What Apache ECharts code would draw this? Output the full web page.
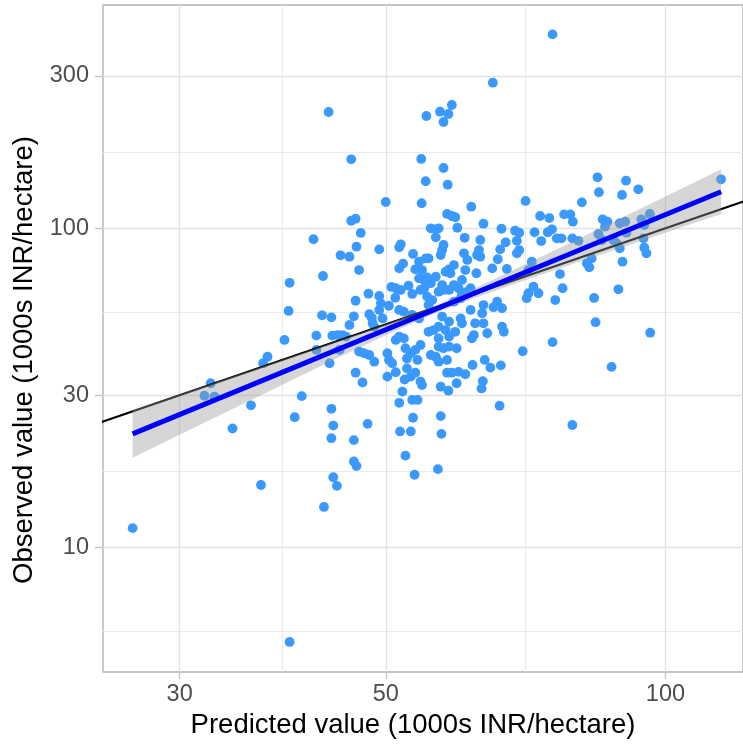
<!DOCTYPE html>
<html>
<head>
<meta charset="utf-8">
<script src="https://cdn.jsdelivr.net/npm/echarts@6/dist/echarts.min.js"></script>
<style>
  html, body { margin: 0; padding: 0; background: #ffffff; }
  #chart { width: 743px; height: 746px; }
</style>
</head>
<body>
<div id="chart"></div>
<script>
// Predicted vs observed land value, 1000s INR per hectare (log-log)
const predicted = [
  50.0, 54.65, 45.9, 46.4, 47.0, 41.8, 46.5, 49.2, 51.7, 51.9,
  53.5, 44.7, 45.7, 52.2, 51.7, 46.8, 42.8, 54.3, 55.0, 55.4,
  51.25, 50.7, 51.9, 52.9, 53.4, 54.5, 55.0, 55.4, 47.9, 49.2,
  51.2, 46.4, 49.4, 50.4, 51.7, 52.3, 49.2, 42.7, 43.7, 46.2,
  48.0, 48.3, 49.6, 45.7, 48.4, 48.6, 53.4, 54.3, 54.3, 55.2,
  53.8, 54.7, 70.7, 61.8, 58.2, 58.9, 59.4, 73.3, 75.0, 63.7,
  59.7, 55.9, 56.6, 57.0, 66.6, 68.9, 69.6, 72.3, 74.7, 75.5,
  56.6, 60.8, 63.2, 67.3, 66.4, 69.2, 73.5, 76.4, 57.7, 57.5,
  57.3, 63.0, 62.7, 63.2, 69.6, 69.2, 60.7, 61.2, 66.0, 55.6,
  59.2, 58.5, 58.0, 58.7, 65.1, 67.5, 60.9, 60.4, 62.6, 71.8,
  71.2, 56.6, 55.9, 57.5, 57.7, 59.2, 59.9, 61.7, 61.2, 60.4,
  60.2, 58.5, 57.0, 72.1, 71.2, 70.9, 73.0, 76.1, 56.1, 55.6,
  59.2, 63.7, 63.5, 65.9, 65.3, 66.7, 61.7, 62.4, 57.5, 58.5,
  57.0, 60.2, 60.4, 63.7, 66.7, 42.1, 43.8, 44.4, 44.9, 45.3,
  42.1, 43.5, 44.6, 46.8, 47.4, 48.0, 48.6, 46.4, 47.2, 50.2,
  50.4, 50.8, 51.25, 51.7, 52.3, 52.5, 53.2, 53.8, 54.5, 52.7,
  54.1, 52.7, 53.8, 53.2, 51.25, 50.2, 52.4, 54.5, 54.7, 52.1,
  40.6, 51.7, 53.4, 54.1, 43.7, 43.9, 47.8, 43.7, 46.2, 51.8,
  53.2, 53.5, 52.5, 46.2, 46.5, 43.9, 53.7, 75.6, 70.2, 55.6,
  56.3, 57.0, 58.0, 58.5, 62.2, 61.9, 64.3, 67.0, 59.4, 57.0,
  57.7, 58.5, 59.6, 55.9, 56.6, 57.0, 58.2, 62.0, 63.9, 64.8,
  66.5, 58.2, 58.9, 59.9, 60.9, 59.6, 63.6, 63.4, 57.3, 58.4,
  66.3, 57.3, 57.4, 56.9, 114.8, 84.5, 90.7, 84.8, 89.8, 93.5,
  81.3, 77.8, 79.0, 79.5, 85.6, 86.6, 89.3, 90.5, 90.8, 94.2,
  96.2, 94.9, 86.1, 84.7, 77.3, 79.4, 80.6, 85.4, 87.9, 88.6,
  94.7, 89.3, 94.9, 95.4, 83.3, 82.3, 82.8, 89.9, 77.0, 77.5,
  89.0, 83.8, 84.1, 96.3, 87.5, 39.4, 39.3, 38.9, 37.3, 36.9,
  32.4, 31.9, 32.7, 35.8, 34.2, 39.9, 26.7, 36.7, 39.4, 75.6,
  65.2, 43.4, 58.9, 57.2, 58.4, 55.3, 57.7, 45.9, 54.6, 57.7,
  55.2, 58.3, 44.3, 42.9, 79.4
];
const observed = [
  120.9, 119.8, 105.6, 107.2, 96.7, 92.4, 87.6, 85.9, 87.2, 89.1,
  83.1, 82.3, 81.5, 77.5, 74.9, 74.0, 70.9, 69.7, 68.9, 70.2,
  64.9, 65.5, 64.1, 66.1, 62.3, 64.1, 64.9, 61.1, 62.4, 61.4,
  60.6, 59.3, 58.2, 57.2, 55.5, 54.8, 55.5, 53.4, 52.6, 53.0,
  53.8, 52.5, 52.2, 49.8, 50.4, 49.2, 53.5, 52.2, 78.6, 80.5,
  74.4, 74.0, 121.8, 116.9, 110.9, 109.3, 108.3, 109.3, 107.7, 103.4,
  100.4, 100.0, 99.3, 100.0, 99.7, 98.3, 96.9, 97.2, 97.2, 99.3,
  93.7, 93.4, 91.9, 90.4, 85.9, 91.4, 91.2, 93.0, 88.7, 85.5,
  82.5, 85.5, 82.5, 81.5, 85.5, 83.5, 83.5, 79.6, 80.0, 80.5,
  76.7, 74.4, 73.1, 72.3, 74.9, 74.6, 74.0, 68.9, 72.3, 78.6,
  74.0, 70.5, 67.3, 66.4, 64.1, 66.4, 64.9, 64.9, 63.3, 62.6,
  60.4, 64.1, 63.3, 65.6, 62.6, 60.4, 62.6, 59.6, 59.6, 57.5,
  58.9, 57.5, 54.2, 58.9, 56.6, 56.2, 55.5, 50.4, 52.9, 51.0,
  49.2, 52.2, 50.4, 50.4, 49.2, 46.1, 46.1, 46.3, 46.3, 45.8,
  41.6, 37.8, 41.6, 41.1, 40.6, 40.1, 38.2, 35.3, 32.9, 40.6,
  38.7, 37.8, 44.7, 45.8, 45.2, 42.1, 40.6, 41.6, 43.1, 39.1,
  38.7, 36.4, 35.3, 34.3, 35.4, 34.3, 33.6, 33.1, 32.3, 30.8,
  29.8, 28.4, 29.0, 29.0, 27.2, 24.1, 24.4, 22.0, 21.7, 23.1,
  23.1, 25.5, 19.4, 18.6, 18.0, 16.6, 16.9, 44.0, 41.2, 47.4,
  48.0, 45.2, 48.0, 45.8, 46.3, 45.2, 46.9, 47.4, 47.4, 42.6,
  42.1, 42.6, 42.1, 40.1, 39.6, 38.2, 38.7, 37.3, 38.7, 36.6,
  37.2, 35.3, 35.3, 35.5, 34.9, 32.7, 33.2, 31.5, 31.9, 31.0,
  27.8, 25.8, 22.7, 17.6, 142.4, 144.5, 141.0, 129.7, 127.2, 132.5,
  120.6, 110.6, 110.6, 104.9, 106.7, 104.9, 103.7, 104.9, 96.9, 106.7,
  110.9, 102.4, 101.2, 96.0, 93.0, 93.0, 91.4, 91.9, 91.9, 89.7,
  93.0, 86.6, 86.9, 83.5, 80.5, 77.7, 75.5, 78.6, 71.9, 64.9,
  64.4, 60.5, 50.8, 47.1, 36.8, 67.5, 55.1, 44.7, 39.6, 37.8,
  32.7, 29.9, 29.7, 27.9, 23.6, 25.6, 11.5, 15.7, 5.06, 405,
  285.9, 231.4, 243.4, 231.9, 228.1, 224.8, 215.3, 164.5, 164.9, 154.5,
  140.4, 137.0, 15.6, 13.4, 24.2
];

// Axis breaks and limits (data units)
const xBreaks = [30, 50, 100];
const xMinorBreaks = [38.73, 70.71];
const yBreaks = [10, 30, 100, 300];
const yMinorBreaks = [5.48, 17.32, 54.77, 173.2];
const xLimits = [24.81, 121.2];
const yLimits = [4.074, 500.7];

// Fitted regression line and its confidence band
const fitX = [26.7, 114.8];
const fitY = [22.7, 130.2];
const bandX    = [26.7, 30, 35, 40, 45, 50, 56.6, 63, 70, 80, 90, 100, 114.8];
const bandLow  = [19.11, 22.56, 28.07, 33.91, 39.99, 46.27, 54.30, 61.17, 68.14, 77.81, 87.30, 96.80, 110.8];
const bandHigh = [26.95, 30.19, 35.10, 40.02, 44.98, 50.06, 57.40, 65.80, 76.11, 91.77, 108.4, 125.9, 153.0];

// 1:1 reference line
const identityRange = [20, 130];

const lg = Math.log10;
const FONT = '"Liberation Sans", Arial, Helvetica, sans-serif';
const fmt = v => String(Math.round(Math.pow(10, v)));

const chart = echarts.init(document.getElementById('chart'), null, { renderer: 'canvas' });

const points = predicted.map((x, i) => [lg(x), lg(observed[i])]);

const majorGrid = { show: true, lineStyle: { color: '#e2e2e2', width: 1.3 } };
const minorGrid = { show: true, lineStyle: { color: '#ebebeb', width: 1.1 } };

chart.setOption({
  animation: false,
  backgroundColor: '#ffffff',
  grid: {
    left: 103, top: 5, width: 642, height: 667,
    show: true, borderColor: '#b3b3b3', borderWidth: 1.4, backgroundColor: 'transparent'
  },
  xAxis: [
    {
      type: 'value', min: lg(xLimits[0]), max: lg(xLimits[1]),
      axisLine: { show: false },
      axisTick: { show: true, length: 7, customValues: xBreaks.map(lg), lineStyle: { color: '#c4c4c4', width: 1.3 } },
      axisLabel: { customValues: xBreaks.map(lg), formatter: fmt, margin: 11, color: '#4d4d4d', fontSize: 23.5, fontFamily: FONT },
      splitLine: majorGrid,
      name: 'Predicted value (1000s INR/hectare)',
      nameLocation: 'middle', nameGap: 38,
      nameTextStyle: { color: '#000000', fontSize: 27.5, fontFamily: FONT, padding: [0, 20, 0, 0] }
    },
    {
      type: 'value', min: lg(xLimits[0]), max: lg(xLimits[1]), position: 'bottom',
      axisLine: { show: false },
      axisTick: { show: false, customValues: xMinorBreaks.map(lg) },
      axisLabel: { show: false },
      splitLine: minorGrid
    }
  ],
  yAxis: [
    {
      type: 'value', min: lg(yLimits[0]), max: lg(yLimits[1]),
      axisLine: { show: false },
      axisTick: { show: true, length: 8, customValues: yBreaks.map(lg), lineStyle: { color: '#c4c4c4', width: 1.3 } },
      axisLabel: { customValues: yBreaks.map(lg), formatter: fmt, margin: 14, color: '#4d4d4d', fontSize: 23.5, fontFamily: FONT },
      splitLine: majorGrid,
      name: 'Observed value (1000s INR/hectare)',
      nameLocation: 'middle', nameGap: 62, nameRotate: 90,
      nameTextStyle: { color: '#000000', fontSize: 27.5, fontFamily: FONT, padding: [0, 43, 0, 0] }
    },
    {
      type: 'value', min: lg(yLimits[0]), max: lg(yLimits[1]), position: 'left',
      axisLine: { show: false },
      axisTick: { show: false, customValues: yMinorBreaks.map(lg) },
      axisLabel: { show: false },
      splitLine: minorGrid
    }
  ],
  series: [
    {
      type: 'scatter', xAxisIndex: 0, yAxisIndex: 0, z: 2,
      data: points, symbol: 'circle', symbolSize: 9.8,
      itemStyle: { color: '#3a99ff', opacity: 1 },
      silent: true
    },
    {
      type: 'line', xAxisIndex: 0, yAxisIndex: 0, z: 3,
      data: identityRange.map(v => [lg(v), lg(v)]),
      symbol: 'none', clip: true,
      lineStyle: { color: '#000000', width: 2 },
      silent: true
    },
    {
      type: 'custom', xAxisIndex: 0, yAxisIndex: 0, z: 4,
      data: [[lg(bandX[0]), lg(bandLow[0])]],
      renderItem: (params, api) => {
        const upper = bandX.map((x, i) => api.coord([lg(x), lg(bandHigh[i])]));
        const lower = bandX.map((x, i) => api.coord([lg(x), lg(bandLow[i])])).reverse();
        return {
          type: 'polygon',
          shape: { points: upper.concat(lower) },
          style: { fill: 'rgba(153,153,153,0.4)' }
        };
      },
      silent: true
    },
    {
      type: 'line', xAxisIndex: 0, yAxisIndex: 0, z: 5,
      data: fitX.map((x, i) => [lg(x), lg(fitY[i])]),
      symbol: 'none',
      lineStyle: { color: '#0000ff', width: 5 },
      silent: true
    }
  ]
});
</script>
</body>
</html>
